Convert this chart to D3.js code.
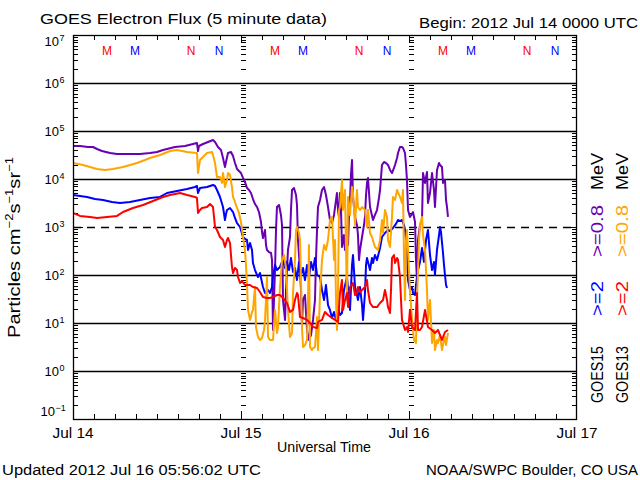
<!DOCTYPE html>
<html><head><meta charset="utf-8">
<script src="https://cdn.jsdelivr.net/npm/d3@7"></script>
<style>
body{margin:0;background:#fff}
svg{display:block}
text{font-family:"Liberation Sans",Arial,sans-serif;fill:#000}
</style>
</head><body>
<svg id="c" width="640" height="480"></svg>
<script>
// ---------------- data ----------------
const decadeValues = [1e-1, 1e0, 1e1, 1e2, 1e3, 1e4, 1e5, 1e6, 1e7];
const decadeExponents = ["\u22121", "0", "1", "2", "3", "4", "5", "6", "7"];
const dayLabels = ["Jul 14", "Jul 15", "Jul 16", "Jul 17"];
const dayHours = [0, 24, 48, 72];

// hours since 2012 Jul 14 00:00 UTC, flux (particles cm-2 s-1 sr-1)
const g15E08 = [[0,4.87e4],[1.0,4.87e4],[2.14,4.64e4],[2.86,4.64e4],[3.43,4.22e4],[4.14,3.83e4],[5.29,3.48e4],[6.29,3.32e4],[8.14,3.32e4],[9.57,3.32e4],[11.0,3.48e4],[12.0,3.65e4],[12.86,4.02e4],[13.43,4.22e4],[14.57,4.64e4],[16.0,4.87e4],[17.14,5.36e4],[17.71,5.62e4],[17.86,3.83e4],[18.0,4.87e4],[18.57,5.36e4],[19.29,5.90e4],[20.0,6.49e4],[20.29,5.90e4],[20.71,4.64e4],[21.14,4.02e4],[21.43,2.74e4],[21.71,1.78e4],[21.86,2.26e4],[22.14,3.48e4],[22.57,3.65e4],[22.86,3.01e4],[23.14,2.15e4],[23.43,1.62e4],[23.71,1.47e4],[24.0,1.33e4],[24.29,1.05e4],[24.57,8.66e3],[24.86,6.49e3],[25.14,5.90e3],[25.43,5.11e3],[25.71,3.83e3],[26.0,3.01e3],[26.29,2.61e3],[26.57,2.05e3],[26.86,1.27e3],[27.0,787],[27.14,590],[27.43,866],[27.57,422],[27.71,332],[28.0,301],[28.29,287],[28.43,205],[28.57,7.15],[28.71,30.1],[28.86,127],[29.0,866],[29.14,2.61e3],[29.43,2.87e3],[29.71,1.78e3],[29.86,1.10e3],[30.0,30.1],[30.29,11.6],[30.43,48.7],[30.71,332],[31.0,619],[31.14,2.26e3],[31.29,5.90e3],[31.57,6.49e3],[31.86,4.64e3],[32.0,2.87e3],[32.14,536],[32.43,127],[32.57,48.7],[32.71,9.09],[32.86,30.1],[33.14,38.3],[33.43,7.15],[33.71,4.43],[34.0,5.62],[34.29,11.6],[34.57,30.1],[34.71,205],[34.86,866],[35.0,2.61e3],[35.29,3.65e3],[35.57,5.90e3],[35.86,6.81e3],[36.14,4.64e3],[36.43,2.61e3],[36.71,1.40e3],[37.0,1.21e3],[37.29,1.78e3],[37.57,3.65e3],[37.71,5.11e3],[37.86,2.26e3],[38.0,1.62e3],[38.14,5.11e3],[38.29,2.26e3],[38.43,383],[38.71,681],[38.86,332],[39.14,866],[39.29,422],[39.43,1.78e3],[39.57,3.65e3],[39.71,1.21e4],[39.86,2.49e4],[40.0,4.22e3],[40.29,1.62e3],[40.57,1.10e3],[40.71,681],[40.86,205],[41.0,332],[41.29,619],[41.57,1.10e3],[41.71,1.62e3],[41.86,4.64e3],[42.0,8.25e3],[42.14,1.05e4],[42.43,2.61e3],[42.86,1.40e3],[43.14,1.78e3],[43.43,2.26e3],[43.71,4.02e3],[43.86,5.90e3],[44.14,1.96e4],[44.43,2.26e4],[44.71,2.15e4],[45.0,1.96e4],[45.29,1.54e4],[45.57,1.33e4],[45.86,1.70e4],[46.0,1.96e4],[46.29,2.74e4],[46.43,3.48e4],[46.71,4.64e4],[47.0,4.64e4],[47.14,4.43e4],[47.43,3.48e4],[47.57,1.96e4],[47.71,9.53e3],[47.86,2.26e3],[48.14,1.62e3],[48.43,1.87e3],[48.57,2.05e3],[48.86,1.27e3],[49.0,205],[49.14,78.7],[49.29,536],[49.57,1.10e3],[49.86,1.40e3],[50.0,1.33e4],[50.29,8.25e3],[50.57,1.40e4],[50.71,3.16e3],[51.0,5.11e3],[51.29,1.33e4],[51.57,5.90e3],[51.71,2.61e3],[52.0,1.54e4],[52.29,2.15e4],[52.43,1.96e4],[52.71,1.78e4],[52.86,8.25e3],[53.14,9.53e3],[53.29,3.65e3],[53.43,2.61e3],[53.57,1.62e3]];

const g15E2 = [[0,4.64e3],[1.0,4.43e3],[2.0,4.22e3],[3.14,3.83e3],[4.29,3.65e3],[5.57,3.32e3],[6.71,3.16e3],[8.14,3.32e3],[9.57,3.65e3],[11.0,4.02e3],[12.43,4.22e3],[13.43,5.11e3],[14.86,5.62e3],[16.29,6.19e3],[17.43,6.81e3],[17.71,7.15e3],[17.86,5.11e3],[18.14,6.49e3],[19.14,6.81e3],[20.0,7.50e3],[20.29,7.15e3],[20.57,5.90e3],[21.0,4.22e3],[21.43,2.61e3],[21.71,1.40e3],[21.86,1.87e3],[22.0,2.26e3],[22.43,2.49e3],[22.86,2.05e3],[23.14,1.54e3],[23.43,1.21e3],[23.86,1.00e3],[24.29,619],[24.57,562],[24.86,536],[25.0,332],[25.29,464],[25.57,332],[25.71,178],[26.0,127],[26.29,100],[26.43,90.9],[26.71,110],[27.14,56.2],[27.43,42.2],[27.86,48.7],[28.14,42.2],[28.43,56.2],[28.57,90.9],[28.86,162],[29.14,127],[29.57,147],[29.86,187],[30.0,205],[30.29,140],[30.57,187],[30.86,127],[31.14,226],[31.43,116],[31.71,140],[32.0,78.7],[32.29,187],[32.57,100],[32.86,140],[33.14,78.7],[33.43,162],[33.71,86.6],[34.0,187],[34.29,127],[34.57,226],[34.86,100],[35.29,90.9],[35.57,48.7],[35.86,30.1],[36.14,61.9],[36.43,23.7],[36.71,18.7],[37.0,12.7],[37.29,17.0],[37.57,11.6],[37.86,21.5],[38.14,14.7],[38.43,16.2],[38.71,48.7],[39.14,90.9],[39.43,30.1],[39.57,18.7],[39.86,162],[40.0,261],[40.29,56.2],[40.57,38.3],[40.71,30.1],[41.0,56.2],[41.29,23.7],[41.43,11.6],[41.71,42.2],[41.86,162],[42.0,226],[42.43,127],[42.71,226],[42.86,178],[43.14,261],[43.43,205],[43.86,365],[44.14,619],[44.57,750],[45.0,866],[45.29,825],[45.71,953],[46.14,1.16e3],[46.43,1.40e3],[46.71,1.33e3],[47.0,1.40e3],[47.29,1.10e3],[47.43,866],[47.71,332],[47.86,78.7],[48.14,48.7],[48.43,56.2],[48.57,42.2],[48.86,38.3],[49.0,61.9],[49.29,127],[49.57,187],[49.86,365],[50.14,187],[50.43,536],[50.71,866],[51.0,261],[51.29,127],[51.57,187],[51.71,100],[52.0,332],[52.29,681],[52.43,1.00e3],[52.57,787],[52.86,287],[53.0,162],[53.14,100],[53.29,61.9],[53.43,53.6]];

const g13E08 = [[0,2.15e4],[1.43,1.96e4],[2.43,1.78e4],[3.43,1.62e4],[4.57,1.54e4],[5.71,1.62e4],[7.14,1.78e4],[8.14,1.96e4],[9.14,2.15e4],[10.29,2.49e4],[11.0,2.74e4],[12.43,3.16e4],[13.86,3.83e4],[14.86,4.02e4],[16.29,3.65e4],[17.71,3.48e4],[17.86,1.33e4],[18.14,2.49e4],[18.57,2.87e4],[19.14,3.48e4],[19.86,3.65e4],[20.0,3.16e4],[20.29,2.15e4],[20.57,1.10e4],[21.0,1.10e4],[21.29,8.25e3],[21.43,1.33e4],[21.71,6.81e3],[22.0,9.53e3],[22.14,1.33e4],[22.43,1.21e4],[22.71,6.81e3],[22.86,4.22e3],[23.14,3.32e3],[23.43,2.49e3],[23.71,1.96e3],[24.0,1.27e3],[24.29,619],[24.57,332],[24.71,162],[24.86,61.9],[25.0,18.7],[25.29,11.6],[25.57,17.0],[25.71,18.7],[26.0,56.2],[26.14,8.25],[26.43,5.11],[26.71,4.43],[27.0,4.87],[27.29,7.15],[27.43,11.6],[27.57,30.1],[27.71,90.9],[27.86,5.11],[28.14,4.43],[28.57,4.43],[28.86,18.7],[29.14,6.19],[29.29,8.25],[29.57,56.2],[29.86,205],[30.14,261],[30.43,140],[30.71,18.7],[31.0,5.11],[31.29,6.19],[31.43,42.2],[31.71,205],[31.86,866],[32.0,1.00e3],[32.29,750],[32.43,536],[32.57,78.7],[32.71,8.25],[32.86,3.16],[33.14,3.48],[33.43,4.43],[33.57,26.1],[33.71,422],[33.86,3.16],[34.14,2.74],[34.29,3.01],[34.57,3.16],[34.86,13.3],[35.0,2.74],[35.29,42.2],[35.57,205],[35.86,422],[36.14,332],[36.43,536],[36.71,1.40e3],[37.0,1.62e3],[37.29,205],[37.43,536],[37.57,30.1],[37.71,7.15],[37.86,48.7],[38.0,2.26e3],[38.14,2.61e3],[38.43,9.53e3],[38.57,2.26e3],[38.86,5.90e3],[39.0,332],[39.14,30.1],[39.29,4.22e3],[39.57,1.78e3],[39.86,6.81e3],[40.0,5.11e3],[40.29,1.10e3],[40.57,5.90e3],[40.71,2.61e3],[41.0,2.26e3],[41.29,2.61e3],[41.71,2.26e3],[42.0,1.00e3],[42.14,2.26e3],[42.43,750],[42.71,619],[43.14,383],[43.57,332],[43.86,536],[44.14,1.40e3],[44.29,750],[44.57,2.26e3],[44.86,1.62e3],[45.0,536],[45.29,383],[45.57,1.62e3],[45.71,4.22e3],[46.0,3.65e3],[46.29,5.90e3],[46.71,4.22e3],[47.0,3.16e3],[47.14,5.90e3],[47.29,205],[47.43,30.1],[47.57,536],[47.71,866],[47.86,332],[48.14,48.7],[48.43,11.6],[48.71,4.43],[49.0,3.83],[49.14,30.1],[49.29,127],[49.43,536],[49.57,1.10e3],[49.86,1.62e3],[50.0,681],[50.29,332],[50.57,48.7],[50.71,11.6],[51.0,30.1],[51.29,3.83],[51.57,7.15],[51.71,2.74],[52.0,4.43],[52.14,3.83],[52.43,5.62],[52.71,2.74],[53.0,4.43],[53.14,5.11],[53.29,3.48],[53.57,6.19]];

const g13E2 = [[0,1.96e3],[1.0,1.70e3],[2.43,1.62e3],[3.43,1.54e3],[4.86,1.62e3],[6.29,1.70e3],[7.14,2.05e3],[8.57,2.49e3],[10.0,2.87e3],[11.43,3.48e3],[12.86,4.22e3],[13.86,4.64e3],[15.29,5.11e3],[16.29,4.64e3],[17.43,4.22e3],[17.71,4.02e3],[17.86,1.96e3],[18.14,2.26e3],[18.43,2.49e3],[19.14,2.61e3],[19.57,3.01e3],[20.0,2.61e3],[20.29,1.00e3],[20.57,866],[21.0,619],[21.43,536],[21.71,383],[22.0,536],[22.14,590],[22.43,464],[22.71,147],[22.86,110],[23.14,140],[23.43,127],[23.57,90.9],[23.86,68.1],[24.14,75.0],[24.57,61.9],[25.0,61.9],[25.29,61.9],[25.71,56.2],[26.29,53.6],[26.71,44.3],[27.14,34.8],[27.71,33.2],[28.14,33.2],[28.57,34.8],[29.14,38.3],[29.57,38.3],[30.0,33.2],[30.57,26.1],[31.0,17.0],[31.43,18.7],[31.71,30.1],[32.0,42.2],[32.14,38.3],[32.43,13.3],[32.86,12.7],[33.43,11.6],[33.86,10.0],[34.29,8.25],[34.86,7.87],[35.0,10.5],[35.57,11.6],[36.0,17.0],[36.43,14.7],[37.0,12.7],[37.43,11.6],[37.86,10.5],[38.14,42.2],[38.43,78.7],[38.57,18.7],[38.86,30.1],[39.14,42.2],[39.29,21.5],[39.57,56.2],[40.0,68.1],[40.29,38.3],[40.57,42.2],[40.71,56.2],[41.0,44.3],[41.29,48.7],[41.71,56.2],[42.0,78.7],[42.14,48.7],[42.43,26.1],[42.86,21.5],[43.43,21.5],[43.86,26.1],[44.29,30.1],[44.57,48.7],[44.86,30.1],[45.0,21.5],[45.29,16.2],[45.43,48.7],[45.57,226],[45.86,261],[46.0,178],[46.29,226],[46.43,205],[46.71,90.9],[46.86,30.1],[47.0,11.6],[47.43,7.15],[47.71,8.25],[47.86,6.49],[48.14,18.7],[48.43,8.25],[48.86,7.15],[49.14,42.2],[49.29,7.15],[49.57,7.15],[49.86,8.25],[50.29,18.7],[50.71,8.25],[51.29,7.15],[51.71,6.19],[52.14,7.15],[52.43,5.62],[52.71,4.43],[53.14,6.49],[53.57,7.15]];

// local midnight (M) / noon (N) markers, hours
const g13MidnightHours = [4.86, 28.86, 52.86];
const g13NoonHours = [16.86, 40.86, 64.86];
const g15MidnightHours = [8.86, 32.86, 56.86];
const g15NoonHours = [20.86, 44.86, 68.86];

const titleText = "GOES Electron Flux (5 minute data)";
const beginText = "Begin: 2012 Jul 14 0000 UTC";
const xTitle = "Universal Time";
const updatedText = "Updated 2012 Jul 16 05:56:02 UTC";
const creditText = "NOAA/SWPC Boulder, CO USA";

// ---------------- drawing ----------------
const C = {purple:"#6a00b4", blue:"#0000ff", orange:"#ffa500", red:"#ff0000"};
const L = 73, R = 577, T = 35, B = 419;
const x = d3.scaleLinear().domain([0, 72]).range([L, R]);
const y = d3.scaleLog().domain([0.1, 1e7]).range([B, T]);
const svg = d3.select("#c");

svg.append("rect").attr("width",640).attr("height",480).attr("fill","#fff");

// clip
svg.append("clipPath").attr("id","clip").append("rect")
  .attr("x",L).attr("y",T).attr("width",R-L).attr("height",B-T);

// grid lines at decades
const gridG = svg.append("g").attr("stroke","#000").attr("stroke-width",1.3);
decadeValues.filter(v => v > 0.1 && v < 1e7).forEach(v => {
  gridG.append("line").attr("x1",L).attr("x2",R)
    .attr("y1",Math.round(y(v))+0.5).attr("y2",Math.round(y(v))+0.5)
    .attr("stroke-dasharray", v === 1e3 ? "8,6" : null);
});

// minor log ticks
const minorVals = [];
for (let e = -1; e < 7; e++) for (let k = 2; k <= 9; k++) minorVals.push(k * Math.pow(10, e));
const tickG = svg.append("g").attr("stroke","#000").attr("stroke-width",1);
function yTicks(x0, dir, longLen) {
  minorVals.forEach(v => {
    const yy = Math.round(y(v)) + 0.5;
    tickG.append("line").attr("x1",x0).attr("x2",x0 + dir*5).attr("y1",yy).attr("y2",yy);
  });
  decadeValues.forEach(v => {
    const yy = Math.round(y(v)) + 0.5;
    tickG.append("line").attr("x1",x0).attr("x2",x0 + dir*longLen).attr("y1",yy).attr("y2",yy);
  });
}
yTicks(L, 1, 10);
yTicks(R, -1, 10);
[24, 48].forEach(h => yTicks(Math.round(x(h)), 1, 6));

// x ticks every 3 hours
d3.range(3, 72, 3).forEach(h => {
  const xx = Math.round(x(h)) + 0.5;
  const len = (h % 24 === 0) ? 8 : 5;
  tickG.append("line").attr("x1",xx).attr("x2",xx).attr("y1",T).attr("y2",T+len);
  tickG.append("line").attr("x1",xx).attr("x2",xx).attr("y1",B).attr("y2",B-len);
});

// data lines
const line = d3.line().x(d => x(d[0])).y(d => y(d[1]));
const dataG = svg.append("g").attr("clip-path","url(#clip)").attr("fill","none")
  .attr("stroke-width",2).attr("stroke-linejoin","round");
[[g15E08, C.purple],[g15E2, C.blue],[g13E08, C.orange],[g13E2, C.red]].forEach(([d, c]) => {
  dataG.append("path").datum(d).attr("d", line).attr("stroke", c);
});

// frame
svg.append("rect").attr("x",L+0.5).attr("y",T+0.5).attr("width",R-L-1).attr("height",B-T)
  .attr("fill","none").attr("stroke","#000").attr("stroke-width",1.3);

// M / N markers
function markers(hours, letter, color) {
  hours.forEach(h => {
    svg.append("text").attr("x",x(h)).attr("y",55).attr("text-anchor","middle")
      .style("font-size","12px").style("fill",color).text(letter);
  });
}
markers(g13MidnightHours, "M", C.red);
markers(g15MidnightHours, "M", C.blue);
markers(g13NoonHours, "N", C.red);
markers(g15NoonHours, "N", C.blue);

// y tick labels
decadeValues.forEach((v, i) => {
  let base = y(v) + 4.5;
  if (i === decadeValues.length - 1) base = T + 10.5;
  if (i === 0) base = B - 3;
  const xr = (i === 0) ? 55 : 59;
  svg.append("text").attr("x",xr).attr("y",base).attr("text-anchor","end")
    .style("font-size","13px").text("10");
  svg.append("text").attr("x",xr+0.5).attr("y",base-5)
    .style("font-size","9px").text(decadeExponents[i]);
});

// x labels
dayHours.forEach((h, i) => {
  svg.append("text").attr("x",x(h)).attr("y",438).attr("text-anchor","middle")
    .attr("textLength",41).attr("lengthAdjust","spacingAndGlyphs")
    .style("font-size","14px").text(dayLabels[i]);
});
svg.append("text").attr("x",324).attr("y",452).attr("text-anchor","middle")
  .attr("textLength",94).attr("lengthAdjust","spacingAndGlyphs")
  .style("font-size","14px").text(xTitle);

// title, begin
svg.append("text").attr("x",40).attr("y",24).attr("textLength",287).attr("lengthAdjust","spacingAndGlyphs")
  .style("font-size","15px").text(titleText);
svg.append("text").attr("x",419).attr("y",28).attr("textLength",219).attr("lengthAdjust","spacingAndGlyphs")
  .style("font-size","14px").text(beginText);

// bottom texts
svg.append("text").attr("x",2).attr("y",475).attr("textLength",259).attr("lengthAdjust","spacingAndGlyphs")
  .style("font-size","14px").text(updatedText);
svg.append("text").attr("x",426).attr("y",475).attr("textLength",212).attr("lengthAdjust","spacingAndGlyphs")
  .style("font-size","14px").text(creditText);

// y axis title
const yt = svg.append("text").attr("transform","translate(20,338) rotate(-90)")
  .attr("textLength",181).attr("lengthAdjust","spacingAndGlyphs").style("font-size","17px");
yt.append("tspan").text("Particles cm");
yt.append("tspan").attr("dy",-7).style("font-size","11px").text("\u22122");
yt.append("tspan").attr("dy",7).text("s");
yt.append("tspan").attr("dy",-7).style("font-size","11px").text("\u22121");
yt.append("tspan").attr("dy",7).text("sr");
yt.append("tspan").attr("dy",-7).style("font-size","11px").text("\u22121");

// right side labels
const rightCols = [
  {xb:603, items:[["GOES15","#000",403,57],[">=2",C.blue,316,35],[">=0.8",C.purple,257,52],["MeV","#000",190,37]]},
  {xb:628, items:[["GOES13","#000",403,57],[">=2",C.red,316,35],[">=0.8",C.orange,257,52],["MeV","#000",190,37]]}
];
rightCols.forEach(col => col.items.forEach(([t, c, y0, len]) => {
  svg.append("text").attr("transform",`translate(${col.xb},${y0}) rotate(-90)`)
    .attr("textLength",len).attr("lengthAdjust","spacingAndGlyphs")
    .style("font-size","16px").style("fill",c).text(t);
}));
</script>
</body></html>
